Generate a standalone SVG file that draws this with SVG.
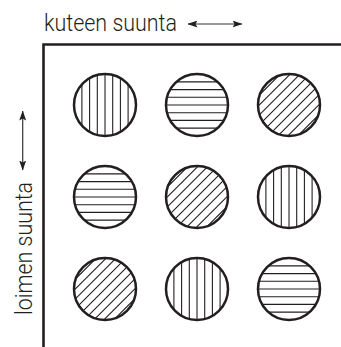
<svg xmlns="http://www.w3.org/2000/svg" xmlns:xlink="http://www.w3.org/1999/xlink" width="341" height="347" viewBox="0 0 341 347">
<style>
.lbl{font-family:Roboto,"Liberation Sans",sans-serif;font-weight:300;font-size:24px;fill:#231f20}
.ring{fill:none;stroke:#231f20;stroke-width:2.5}
.hatch{stroke:#231f20;stroke-width:1.1;fill:none}
.frame{fill:none;stroke:#231f20;stroke-width:2.6}
.arr{stroke:#333;stroke-width:1.2;fill:none;marker-start:url(#ah);marker-end:url(#ah)}
</style>
<defs>
<marker id="ah" viewBox="0 0 10 7" refX="9.5" refY="3.5" markerWidth="10" markerHeight="7" markerUnits="userSpaceOnUse" orient="auto-start-reverse">
<path d="M0,0 L10,3.5 L0,7 L2,3.5 z" fill="#231f20"/>
</marker>
<clipPath id="cc"><circle cx="0" cy="0" r="30.5"/></clipPath>
<g id="vert">
<g class="hatch" clip-path="url(#cc)">
<path d="M-23.1,-32V32M-15.4,-32V32M-7.7,-32V32M0,-32V32M7.7,-32V32M15.4,-32V32M23.1,-32V32"/>
</g>
<circle class="ring" r="31"/>
</g>
<g id="horz">
<g class="hatch" clip-path="url(#cc)">
<path d="M-32,-23.1H32M-32,-15.4H32M-32,-7.7H32M-32,0H32M-32,7.7H32M-32,15.4H32M-32,23.1H32"/>
</g>
<circle class="ring" r="31"/>
</g>
<g id="diag">
<g class="hatch" clip-path="url(#cc)">
<path transform="rotate(45)" d="M-28,-32V32M-21,-32V32M-14,-32V32M-7,-32V32M0,-32V32M7,-32V32M14,-32V32M21,-32V32M28,-32V32"/>
</g>
<circle class="ring" r="31"/>
</g>
</defs>
<g id="frame">
<path class="frame" d="M43.5,347V44.5H341"/>
</g>
<g id="label-kude">
<text class="lbl" x="44" y="31" textLength="133" lengthAdjust="spacingAndGlyphs">kuteen suunta</text>
</g>
<g id="label-loimi">
<text class="lbl" transform="translate(31.5,315) rotate(-90)" x="0" y="0" textLength="133" lengthAdjust="spacingAndGlyphs">loimen suunta</text>
</g>
<g id="connectors">
<path class="arr" d="M188,24H242"/>
<path class="arr" d="M22.7,111V170"/>
</g>
<g id="c11" transform="translate(105,105)"><use xlink:href="#vert"/></g>
<g id="c12" transform="translate(197,105)"><use xlink:href="#horz"/></g>
<g id="c13" transform="translate(289,105)"><use xlink:href="#diag"/></g>
<g id="c21" transform="translate(105,197)"><use xlink:href="#horz"/></g>
<g id="c22" transform="translate(197,197)"><use xlink:href="#diag"/></g>
<g id="c23" transform="translate(289,197)"><use xlink:href="#vert"/></g>
<g id="c31" transform="translate(105,289)"><use xlink:href="#diag"/></g>
<g id="c32" transform="translate(197,289)"><use xlink:href="#vert"/></g>
<g id="c33" transform="translate(289,289)"><use xlink:href="#horz"/></g>
</svg>
